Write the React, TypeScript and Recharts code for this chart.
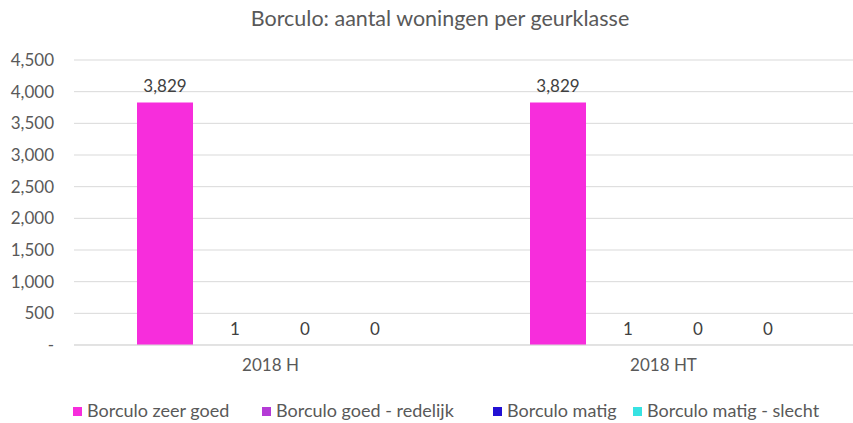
import React from 'react'
import { BarChart, Bar, XAxis, YAxis, CartesianGrid, LabelList, Rectangle } from 'recharts'

const categories = ['2018 H', '2018 HT']
const zeerGoed = [3829, 3829]
const goedRedelijk = [1, 1]
const matig = [0, 0]
const matigSlecht = [0, 0]
const yTicks = [0, 500, 1000, 1500, 2000, 2500, 3000, 3500, 4000, 4500]

const series = [
  { key: 'zeerGoed', name: 'Borculo zeer goed', color: '#f72ddc' },
  { key: 'goedRedelijk', name: 'Borculo goed - redelijk', color: '#b43bd6' },
  { key: 'matig', name: 'Borculo matig', color: '#2210d4' },
  { key: 'matigSlecht', name: 'Borculo matig - slecht', color: '#37e2e2' },
]

const data = categories.map((c, i) => ({
  category: c,
  zeerGoed: zeerGoed[i],
  goedRedelijk: goedRedelijk[i],
  matig: matig[i],
  matigSlecht: matigSlecht[i],
}))

const FONT = 'Lato, sans-serif'
const TEXT = '#595959'
const legendLeft = [73, 262, 493, 633]

const fmtNum = (v: number) => (v === 0 ? '-' : v.toLocaleString('en-US'))

// custom label so zero bars still get their "0"
const renderLabel = (p: any) => {
  const { x, y, width, value } = p
  return (
    <text
      x={Number(x) + Number(width) / 2}
      y={Number(y) - 10}
      textAnchor="middle"
      fill="#404040"
      fontSize={17}
      fontFamily={FONT}
    >
      {Number(value).toLocaleString('en-US')}
    </text>
  )
}

// zero bars get a tiny min size so they keep a label, but draw nothing
const renderShape = (p: any) => (p.value === 0 || p.height < 0.5 ? <g /> : <Rectangle {...p} />)

export default function App() {
  return (
    <div style={{ position: 'absolute', left: 0, top: 0, width: 853, height: 423, background: '#fff', fontFamily: FONT }}>
      <div style={{ position: 'absolute', top: 5, left: 0, width: 880, textAlign: 'center', fontSize: 21.5, color: TEXT }}>
        Borculo: aantal woningen per geurklasse
      </div>
      <BarChart
        width={853}
        height={423}
        data={data}
        margin={{ top: 60, right: -7, left: 14, bottom: 48 }}
        barCategoryGap={63}
        barGap={14}
      >
        <CartesianGrid vertical={false} stroke="#d9d9d9" />
        <XAxis
          dataKey="category"
          stroke="#d9d9d9"
          tickLine={false}
          tick={{ fill: TEXT, fontSize: 17, fontFamily: FONT }}
          tickMargin={8}
          height={30}
        />
        <YAxis
          domain={[0, 4500]}
          ticks={yTicks}
          tickFormatter={fmtNum}
          axisLine={false}
          tickLine={false}
          width={60}
          tickSize={12}
          tickMargin={8}
          tick={{ fill: TEXT, fontSize: 17, fontFamily: FONT }}
        />
        {series.map((s) => (
          <Bar
            key={s.key}
            dataKey={s.key}
            name={s.name}
            fill={s.color}
            minPointSize={0.01}
            shape={renderShape}
            isAnimationActive={false}
          >
            <LabelList dataKey={s.key} content={renderLabel} />
          </Bar>
        ))}
      </BarChart>
      {series.map((s, i) => (
        <div
          key={s.key}
          style={{
            position: 'absolute',
            top: 399,
            left: legendLeft[i],
            display: 'flex',
            alignItems: 'center',
            fontSize: 18,
            color: TEXT,
            whiteSpace: 'nowrap',
          }}
        >
          <span style={{ display: 'inline-block', width: 9, height: 9, background: s.color, marginRight: 5, marginTop: 2 }} />
          <span>{s.name}</span>
        </div>
      ))}
    </div>
  )
}
